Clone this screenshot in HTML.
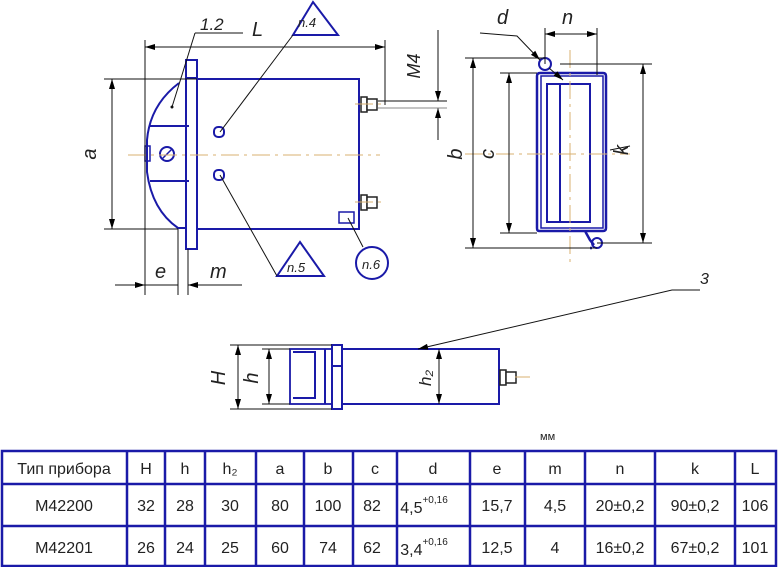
<!DOCTYPE html>
<html><head><meta charset="utf-8"><style>
html,body{margin:0;padding:0;background:#fff;}
svg{display:block;}
text{font-family:"Liberation Sans","DejaVu Sans",sans-serif;fill:#222;}
.it{font-style:italic;fill:#555;}
</style></head><body>
<svg width="778" height="567" viewBox="0 0 778 567" xmlns="http://www.w3.org/2000/svg">
<defs>
<marker id="ar" viewBox="0 0 10 6" refX="10" refY="3" markerWidth="10" markerHeight="6" orient="auto-start-reverse" markerUnits="userSpaceOnUse"><path d="M0,0L10,3L0,6z" fill="#000"/></marker>
</defs>
<g fill="none" stroke="#1a1aa8" stroke-width="2">
<rect x="197" y="79" width="162" height="150"/>
<rect x="186" y="60" width="11" height="189"/>
<line x1="186" y1="78" x2="197" y2="78"/>
<path d="M179,83 Q150,105 147,140 L147,172 Q152,210 178,228 L186,228"/>
<line x1="150" y1="126" x2="189" y2="126"/>
<line x1="150" y1="181" x2="189" y2="181"/>
<rect x="145" y="146" width="5" height="15" stroke-width="1.5"/>
<circle cx="167" cy="154" r="7"/>
<line x1="162" y1="159" x2="172" y2="149" stroke-width="1.5"/>
<rect x="214" y="127" width="10" height="10" rx="4"/>
<rect x="214" y="170" width="10" height="10" rx="4"/>
<rect x="339" y="212" width="15" height="11" stroke-width="1.5"/>
<path d="M293,35 L313,2 L338,35 Z"/>
<path d="M277,276 L300,242 L324,276 Z"/>
<circle cx="372" cy="263" r="16"/>
<path d="M540,73 L603,73 Q606,73 606,76 L606,228 Q606,231 603,231 L585,231 L590,240 L594,245 M592,248 L590,248 M539,231 L584,231 M539,231 Q537,231 537,228 L537,76 Q537,73 540,73" stroke-width="2.5"/>
<rect x="541" y="76" width="62" height="152" stroke-width="1.5"/>
<rect x="547" y="84" width="43" height="138"/>
<line x1="560" y1="84" x2="560" y2="222"/>
<circle cx="545" cy="64" r="6"/>
<circle cx="597" cy="243" r="5"/>
<rect x="342" y="349" width="157" height="55"/>
<rect x="332" y="345" width="10" height="64"/>
<line x1="332" y1="366" x2="342" y2="366"/>
<rect x="290" y="349" width="42" height="55" stroke-width="1.8"/>
<path d="M293,352 L315,352 L315,398 L293,398"/>
<line x1="325" y1="349" x2="325" y2="404"/>
</g>
<g fill="#fff" stroke="#222" stroke-width="1.5">
<rect x="361" y="97" width="6" height="15"/><rect x="367" y="99" width="10" height="11"/>
<rect x="361" y="195" width="6" height="15"/><rect x="367" y="197" width="10" height="11"/>
<rect x="500" y="370" width="6" height="15"/><rect x="506" y="372" width="10" height="11"/>
</g>
<g stroke="#d8b070" stroke-width="1" stroke-dasharray="18,5,3,5" fill="none">
<line x1="128" y1="155" x2="380" y2="155"/>
<line x1="465" y1="154" x2="630" y2="154"/>
<line x1="570" y1="50" x2="570" y2="265"/>
<line x1="355" y1="104" x2="385" y2="104"/>
<line x1="355" y1="202" x2="385" y2="202"/>
<line x1="515" y1="377" x2="530" y2="377"/>
</g>
<g stroke="#111" stroke-width="1" fill="none">
<line x1="145" y1="40" x2="145" y2="295"/>
<line x1="385" y1="40" x2="385" y2="105"/>
<line x1="145" y1="47" x2="385" y2="47" marker-start="url(#ar)" marker-end="url(#ar)"/>
<line x1="195" y1="33" x2="243" y2="33"/>
<polyline points="195,33 172,107"/>
<circle cx="172" cy="107" r="1" fill="#111"/>
<line x1="104" y1="79" x2="197" y2="79"/>
<line x1="104" y1="229" x2="178" y2="229"/>
<line x1="112" y1="79" x2="112" y2="229" marker-start="url(#ar)" marker-end="url(#ar)"/>
<line x1="178" y1="229" x2="178" y2="295"/>
<line x1="188" y1="249" x2="188" y2="295"/>
<line x1="115" y1="285" x2="145" y2="285" marker-end="url(#ar)"/>
<line x1="145" y1="285" x2="178" y2="285"/>
<line x1="242" y1="285" x2="188" y2="285" marker-end="url(#ar)"/>
<line x1="293" y1="35" x2="220" y2="132"/>
<line x1="277" y1="276" x2="220" y2="175"/>
<line x1="363" y1="247" x2="348" y2="218"/>
<line x1="438" y1="30" x2="438" y2="101" marker-end="url(#ar)"/>
<line x1="438" y1="140" x2="438" y2="108" marker-end="url(#ar)"/>
<line x1="378" y1="101" x2="447" y2="101"/>
<line x1="378" y1="108" x2="447" y2="108" stroke="#888"/>
<line x1="465" y1="58" x2="545" y2="58"/>
<line x1="465" y1="248" x2="597" y2="248"/>
<line x1="473" y1="58" x2="473" y2="248" marker-start="url(#ar)" marker-end="url(#ar)"/>
<line x1="500" y1="73" x2="537" y2="73"/>
<line x1="500" y1="233" x2="537" y2="233"/>
<line x1="509" y1="73" x2="509" y2="233" marker-start="url(#ar)" marker-end="url(#ar)"/>
<line x1="560" y1="64" x2="652" y2="64"/>
<line x1="597" y1="243" x2="652" y2="243"/>
<line x1="643" y1="64" x2="643" y2="243" marker-start="url(#ar)" marker-end="url(#ar)"/>
<line x1="545" y1="28" x2="545" y2="64"/>
<line x1="597" y1="28" x2="597" y2="75"/>
<line x1="545" y1="34" x2="597" y2="34" marker-start="url(#ar)" marker-end="url(#ar)"/>
<polyline points="480,33 517,36 540,60" marker-end="url(#ar)"/>
<line x1="549" y1="68" x2="563" y2="80" marker-end="url(#ar)"/>
<line x1="610" y1="150" x2="630" y2="146"/>
<line x1="230" y1="345" x2="332" y2="345"/>
<line x1="230" y1="409" x2="332" y2="409"/>
<line x1="238" y1="345" x2="238" y2="409" marker-start="url(#ar)" marker-end="url(#ar)"/>
<line x1="262" y1="349" x2="290" y2="349"/>
<line x1="262" y1="404" x2="290" y2="404"/>
<line x1="269" y1="349" x2="269" y2="404" marker-start="url(#ar)" marker-end="url(#ar)"/>
<line x1="439" y1="349" x2="439" y2="404" marker-start="url(#ar)" marker-end="url(#ar)"/>
<polyline points="700,290 672,290 418,349" marker-end="url(#ar)"/>
</g>
<g class="it" font-size="20">
<text x="200" y="30" font-size="17">1.2</text>
<text x="252" y="36">L</text>
<text x="497" y="24">d</text>
<text x="562" y="24">n</text>
<text x="155" y="278">e</text>
<text x="210" y="278">m</text>
<text x="700" y="284" font-size="16">3</text>
<text transform="translate(96,154) rotate(-90)" text-anchor="middle">a</text>
<text transform="translate(462,154) rotate(-90)" text-anchor="middle">b</text>
<text transform="translate(494,154) rotate(-90)" text-anchor="middle">c</text>
<text transform="translate(628,150) rotate(-90)" text-anchor="middle">k</text>
<text transform="translate(420,66) rotate(-90)" text-anchor="middle" font-size="18">M4</text>
<text transform="translate(225,378) rotate(-90)" text-anchor="middle">H</text>
<text transform="translate(258,378) rotate(-90)" text-anchor="middle">h</text>
<text transform="translate(431,378) rotate(-90)" text-anchor="middle" font-size="17">h₂</text>
<text x="298" y="27" font-size="13">n.4</text>
<text x="287" y="272" font-size="13">n.5</text>
<text x="362" y="269" font-size="13">n.6</text>
</g>
<text x="540" y="440" font-size="11" fill="#333">мм</text>
<g stroke="#1a1aa8" stroke-width="2.5" fill="none">
<rect x="2" y="451" width="774" height="115"/>
<line x1="2" y1="484" x2="776" y2="484"/>
<line x1="2" y1="526" x2="776" y2="526"/>
<line x1="127" y1="451" x2="127" y2="566"/>
<line x1="165" y1="451" x2="165" y2="566"/>
<line x1="205" y1="451" x2="205" y2="566"/>
<line x1="256" y1="451" x2="256" y2="566"/>
<line x1="304" y1="451" x2="304" y2="566"/>
<line x1="353" y1="451" x2="353" y2="566"/>
<line x1="397" y1="451" x2="397" y2="566"/>
<line x1="470" y1="451" x2="470" y2="566"/>
<line x1="525" y1="451" x2="525" y2="566"/>
<line x1="585" y1="451" x2="585" y2="566"/>
<line x1="655" y1="451" x2="655" y2="566"/>
<line x1="735" y1="451" x2="735" y2="566"/>
</g>
<g font-size="16" text-anchor="middle" fill="#222">
<text x="64" y="474">Тип прибора</text>
<text x="146" y="474">H</text><text x="185" y="474">h</text><text x="230" y="474">h₂</text>
<text x="280" y="474">a</text><text x="328" y="474">b</text><text x="375" y="474">c</text>
<text x="433" y="474">d</text><text x="497" y="474">e</text><text x="555" y="474">m</text>
<text x="620" y="474">n</text><text x="695" y="474">k</text><text x="755" y="474">L</text>
<text x="64" y="511">M42200</text>
<text x="146" y="511">32</text><text x="185" y="511">28</text><text x="230" y="511">30</text>
<text x="280" y="511">80</text><text x="328" y="511">100</text><text x="372" y="511">82</text>
<text x="424" y="513">4,5<tspan font-size="10" dy="-10">+0,16</tspan></text>
<text x="497" y="511">15,7</text><text x="555" y="511">4,5</text>
<text x="620" y="511">20±0,2</text><text x="695" y="511">90±0,2</text><text x="755" y="511">106</text>
<text x="64" y="553">M42201</text>
<text x="146" y="553">26</text><text x="185" y="553">24</text><text x="230" y="553">25</text>
<text x="280" y="553">60</text><text x="328" y="553">74</text><text x="372" y="553">62</text>
<text x="424" y="555">3,4<tspan font-size="10" dy="-10">+0,16</tspan></text>
<text x="497" y="553">12,5</text><text x="555" y="553">4</text>
<text x="620" y="553">16±0,2</text><text x="695" y="553">67±0,2</text><text x="755" y="553">101</text>
</g>
</svg>
</body></html>
